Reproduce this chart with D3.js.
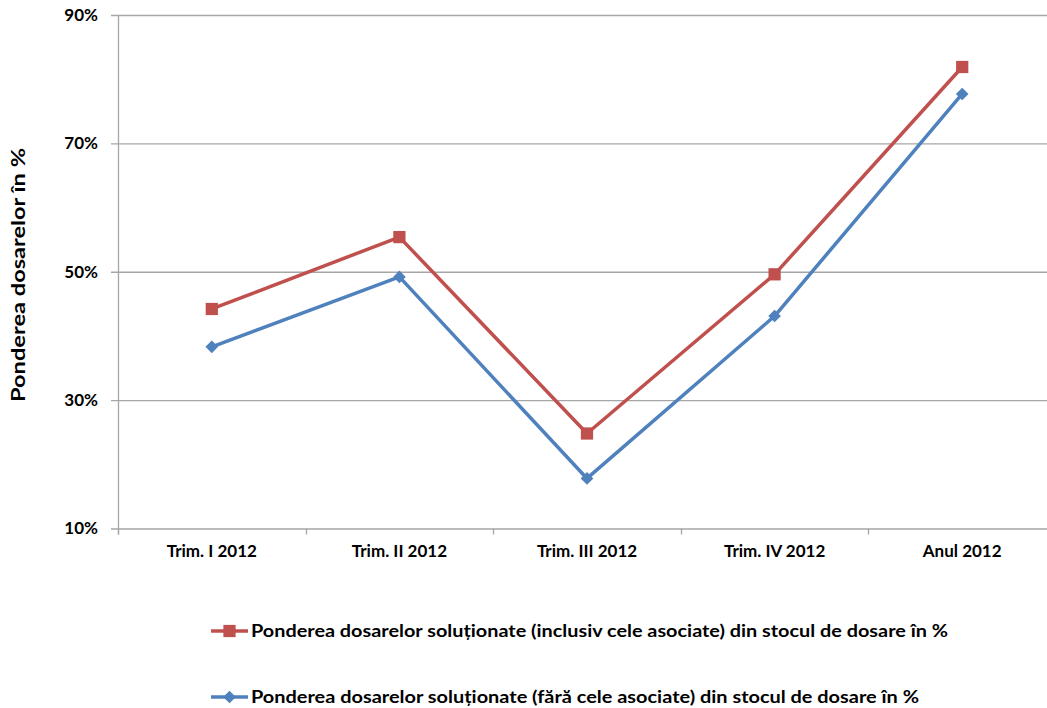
<!DOCTYPE html>
<html><head><meta charset="utf-8">
<script src="https://cdn.jsdelivr.net/npm/d3@7"></script>
<style>body{margin:0;background:#fff}svg{display:block}text{font-family:Lato,"Open Sans",sans-serif;font-weight:bold;fill:#000}</style>
</head><body><svg id="c" width="1047" height="708"></svg>
<script>
const categories = ["Trim. I 2012","Trim. II 2012","Trim. III 2012","Trim. IV 2012","Anul 2012"];
const seriesInclusiv = [44.2, 55.4, 24.8, 49.6, 81.9];
const seriesFara = [38.3, 49.2, 17.8, 43.1, 77.7];
const yTicks = [10, 30, 50, 70, 90];
const seriesNames = ["Ponderea dosarelor soluționate (inclusiv cele asociate) din stocul de dosare în %",
                     "Ponderea dosarelor soluționate (fără cele asociate) din stocul de dosare în %"];
const yTitle = "Ponderea dosarelor în %";
const colors = ["#C0504D","#4F81BD"];

const svg = d3.select("#c");
const x = d3.scaleBand().domain(categories).range([118, 1056]);
const y = d3.scaleLinear().domain([10, 90]).range([528.5, 15]);

// gridlines
svg.append("g").selectAll("line").data(yTicks).join("line")
  .attr("x1", 111).attr("x2", 1056).attr("y1", d=>y(d)+0.5).attr("y2", d=>y(d)+0.5)
  .attr("stroke", "#A6A6A6").attr("stroke-width", 1.3);

// y axis
svg.append("line").attr("x1",118.5).attr("x2",118.5).attr("y1",y(90)).attr("y2",y(10)+6)
  .attr("stroke","#A6A6A6").attr("stroke-width",1.3);
svg.append("g").selectAll("text").data(yTicks).join("text")
  .attr("x", 98).attr("y", d=>y(d)).attr("dy","0.35em").attr("text-anchor","end")
  .style("font-size","17px").text(d=>d+"%");

// x axis ticks
const bounds = categories.map(c=>x(c)).concat([x.range()[1]]);
svg.append("g").selectAll("line").data(bounds).join("line")
  .attr("x1", d=>Math.round(d)+0.5).attr("x2", d=>Math.round(d)+0.5)
  .attr("y1", y(10)).attr("y2", y(10)+6).attr("stroke","#A6A6A6").attr("stroke-width",1.3);
svg.append("g").selectAll("text").data(categories).join("text")
  .attr("x", d=>x(d)+x.bandwidth()/2).attr("y", 557).attr("text-anchor","middle")
  .style("font-size","17px").text(d=>d);

// y title
svg.append("text").attr("transform","translate(25,275) rotate(-90)")
  .attr("text-anchor","middle").style("font-size","19px")
  .attr("textLength",254).attr("lengthAdjust","spacingAndGlyphs").text(yTitle);

const cx = (d,i)=>x(categories[i])+x.bandwidth()/2;
const line = d3.line().x((d,i)=>cx(d,i)).y(d=>y(d));
const allSeries = [seriesInclusiv, seriesFara];
const sq = d3.symbol().type(d3.symbolSquare).size(150);
const dm = d3.symbol().type(d3.symbolSquare).size(80);

function marker(sel, k){
  return sel.attr("d", k===0 ? sq() : dm()).attr("fill", colors[k]);
}

allSeries.forEach((s,k)=>{
  svg.append("path").datum(s).attr("d", line).attr("fill","none")
    .attr("stroke", colors[k]).attr("stroke-width", 3.5).attr("stroke-linejoin","round");
  svg.append("g").selectAll("path").data(s).join("path")
    .attr("transform",(d,i)=>`translate(${cx(d,i)},${y(d)})` + (k===1?" rotate(45)":""))
    .call(marker, k);
});

// legend
const legY = [631, 697];
seriesNames.forEach((n,k)=>{
  const g = svg.append("g").attr("transform",`translate(0,${legY[k]})`);
  g.append("line").attr("x1",211).attr("x2",248).attr("y1",0).attr("y2",0)
    .attr("stroke",colors[k]).attr("stroke-width",3.5);
  g.append("path").attr("transform","translate(229.5,0)" + (k===1?" rotate(45)":"")).call(marker, k);
  g.append("text").attr("x",251).attr("y",0).attr("dy","0.35em").style("font-size","16.5px")
    .attr("textLength", k===0?697:668).attr("lengthAdjust","spacingAndGlyphs").text(n);
});
</script></body></html>
